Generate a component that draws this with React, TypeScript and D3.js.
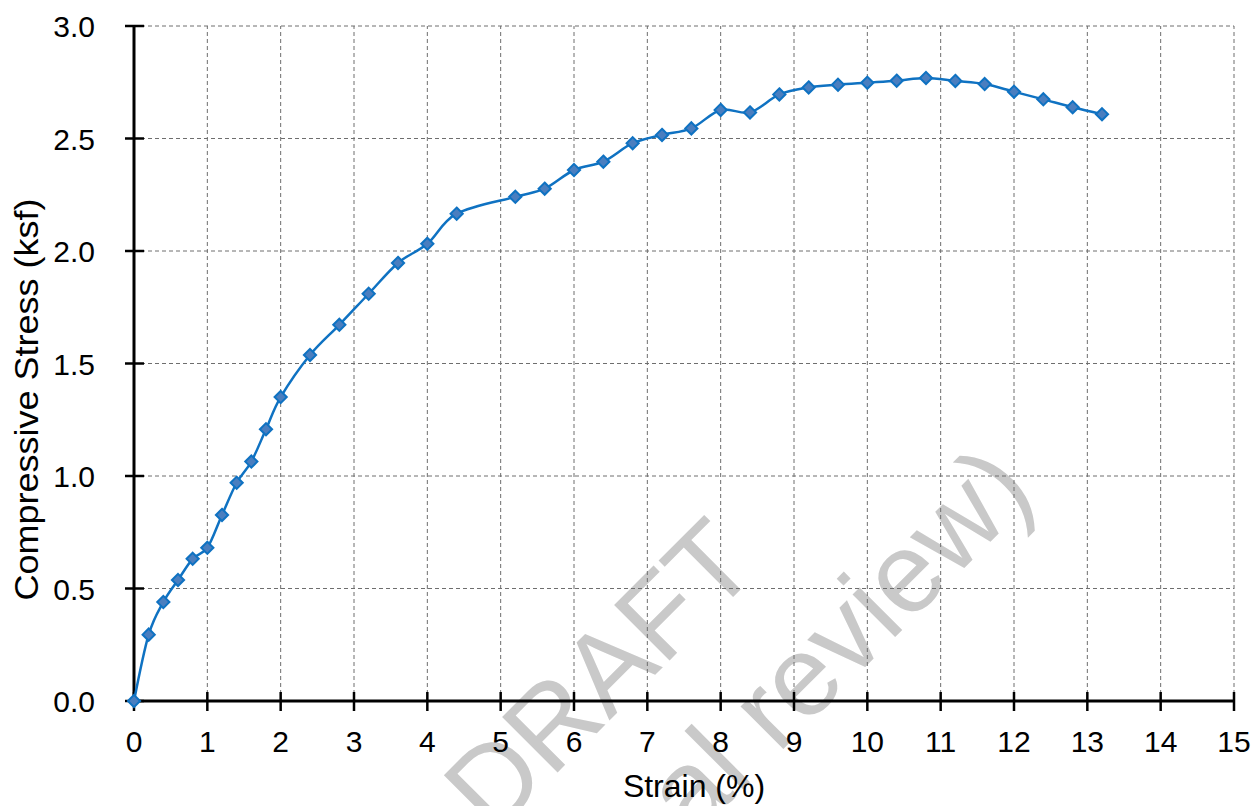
import * as d3 from 'd3';
import { useEffect, useRef } from 'react';

// strain (%) readings and matching compressive stress (ksf)
const strain = [0, 0.2, 0.4, 0.6, 0.8, 1.0, 1.2, 1.4, 1.6, 1.8, 2.0, 2.4, 2.8, 3.2, 3.6, 4.0, 4.4, 5.2, 5.6, 6.0, 6.4, 6.8, 7.2, 7.6, 8.0, 8.4, 8.8, 9.2, 9.6, 10.0, 10.4, 10.8, 11.2, 11.6, 12.0, 12.4, 12.8, 13.2];
const stress = [0, 0.295, 0.44, 0.538, 0.632, 0.681, 0.827, 0.970, 1.064, 1.208, 1.351, 1.538, 1.672, 1.81, 1.947, 2.032, 2.166, 2.241, 2.277, 2.36, 2.397, 2.479, 2.516, 2.545, 2.627, 2.616, 2.696, 2.727, 2.739, 2.748, 2.757, 2.769, 2.756, 2.742, 2.708, 2.674, 2.639, 2.608];

const xTicks = d3.range(0, 16);
const yTicks = [0, 0.5, 1.0, 1.5, 2.0, 2.5, 3.0];
const xLabel = 'Strain (%)';
const yLabel = 'Compressive Stress (ksf)';
const watermark = ['DRAFT', '(internal review)'];

export default function App() {
  const ref = useRef<SVGSVGElement | null>(null);

  useEffect(() => {
    const W = 1258, H = 806;
    const margin = { top: 26, right: 24, bottom: 105, left: 134 };
    const font = '"Liberation Sans", Arial, Helvetica, sans-serif';

    const svg = d3.select(ref.current);
    svg.selectAll('*').remove();
    svg.append('rect').attr('width', W).attr('height', H).attr('fill', '#fff');

    const x = d3.scaleLinear().domain([0, 15]).range([margin.left, W - margin.right]);
    const y = d3.scaleLinear().domain([0, 3]).range([H - margin.bottom, margin.top]);

    // watermark sits under the chart
    const wm = svg.append('g')
      .attr('transform', 'translate(620,710) rotate(-45)')
      .attr('font-family', font).attr('font-size', 114).attr('fill', '#c9c9c9')
      .attr('text-anchor', 'middle');
    wm.selectAll('text').data(watermark).enter().append('text')
      .attr('x', (d, i) => (i === 0 ? 10 : 42)).attr('y', (d, i) => i * 143)
      .text(d => d);

    // gridlines
    svg.append('g').selectAll('line').data(xTicks.filter(d => d > 0)).enter().append('line')
      .attr('x1', d => x(d)).attr('x2', d => x(d))
      .attr('y1', y(0)).attr('y2', y(3))
      .attr('stroke', '#6e6e6e').attr('stroke-width', 1).attr('stroke-dasharray', '4,3');
    svg.append('g').selectAll('line').data(yTicks.filter(d => d > 0)).enter().append('line')
      .attr('x1', x(0)).attr('x2', x(15))
      .attr('y1', d => y(d)).attr('y2', d => y(d))
      .attr('stroke', '#6e6e6e').attr('stroke-width', 1).attr('stroke-dasharray', '4,3');

    // axes
    svg.append('line').attr('x1', x(0)).attr('x2', x(15)).attr('y1', y(0)).attr('y2', y(0))
      .attr('stroke', '#000').attr('stroke-width', 3);
    svg.append('line').attr('x1', x(0)).attr('x2', x(0)).attr('y1', y(0)).attr('y2', y(3))
      .attr('stroke', '#000').attr('stroke-width', 3);

    svg.append('g').selectAll('line').data(xTicks).enter().append('line')
      .attr('x1', d => x(d)).attr('x2', d => x(d))
      .attr('y1', y(0) - 9).attr('y2', y(0) + 10)
      .attr('stroke', '#000').attr('stroke-width', 2.5);
    svg.append('g').selectAll('line').data(yTicks).enter().append('line')
      .attr('x1', x(0) - 9).attr('x2', x(0) + 10)
      .attr('y1', d => y(d)).attr('y2', d => y(d))
      .attr('stroke', '#000').attr('stroke-width', 2.5);

    svg.append('g').selectAll('text').data(xTicks).enter().append('text')
      .attr('x', d => x(d)).attr('y', y(0) + 51)
      .attr('text-anchor', 'middle')
      .attr('font-family', font).attr('font-size', 30).attr('fill', '#000')
      .text(d => d);
    svg.append('g').selectAll('text').data(yTicks).enter().append('text')
      .attr('x', 95).attr('y', d => y(d) + 11)
      .attr('text-anchor', 'end')
      .attr('font-family', font).attr('font-size', 30).attr('fill', '#000')
      .text(d => d.toFixed(1));

    svg.append('text')
      .attr('x', (x(0) + x(15)) / 2 + 10).attr('y', 797)
      .attr('text-anchor', 'middle')
      .attr('font-family', font).attr('font-size', 32).attr('fill', '#000')
      .text(xLabel);
    svg.append('text')
      .attr('transform', `translate(38, ${(y(0) + y(3)) / 2 + 36}) rotate(-90)`)
      .attr('text-anchor', 'middle')
      .attr('font-family', font).attr('font-size', 33).attr('fill', '#000')
      .attr('textLength', 402).attr('lengthAdjust', 'spacingAndGlyphs')
      .text(yLabel);

    const pts = strain.map((s, i) => [s, stress[i]] as [number, number]);

    const line = d3.line<[number, number]>()
      .x(d => x(d[0])).y(d => y(d[1]))
      .curve(d3.curveCardinal.tension(0));
    svg.append('path').datum(pts)
      .attr('d', line)
      .attr('fill', 'none').attr('stroke', '#0f72c2').attr('stroke-width', 2.5);

    const diamond = d3.symbol().type(d3.symbolDiamond2).size(95);
    svg.append('g').selectAll('path').data(pts).enter().append('path')
      .attr('transform', d => `translate(${x(d[0])},${y(d[1])})`)
      .attr('d', diamond)
      .attr('fill', '#4a7ebf').attr('stroke', '#0f72c2').attr('stroke-width', 2);
  }, []);

  return (
    <svg ref={ref} width={1258} height={806}
      style={{ position: 'absolute', left: 0, top: 0, display: 'block' }} />
  );
}
